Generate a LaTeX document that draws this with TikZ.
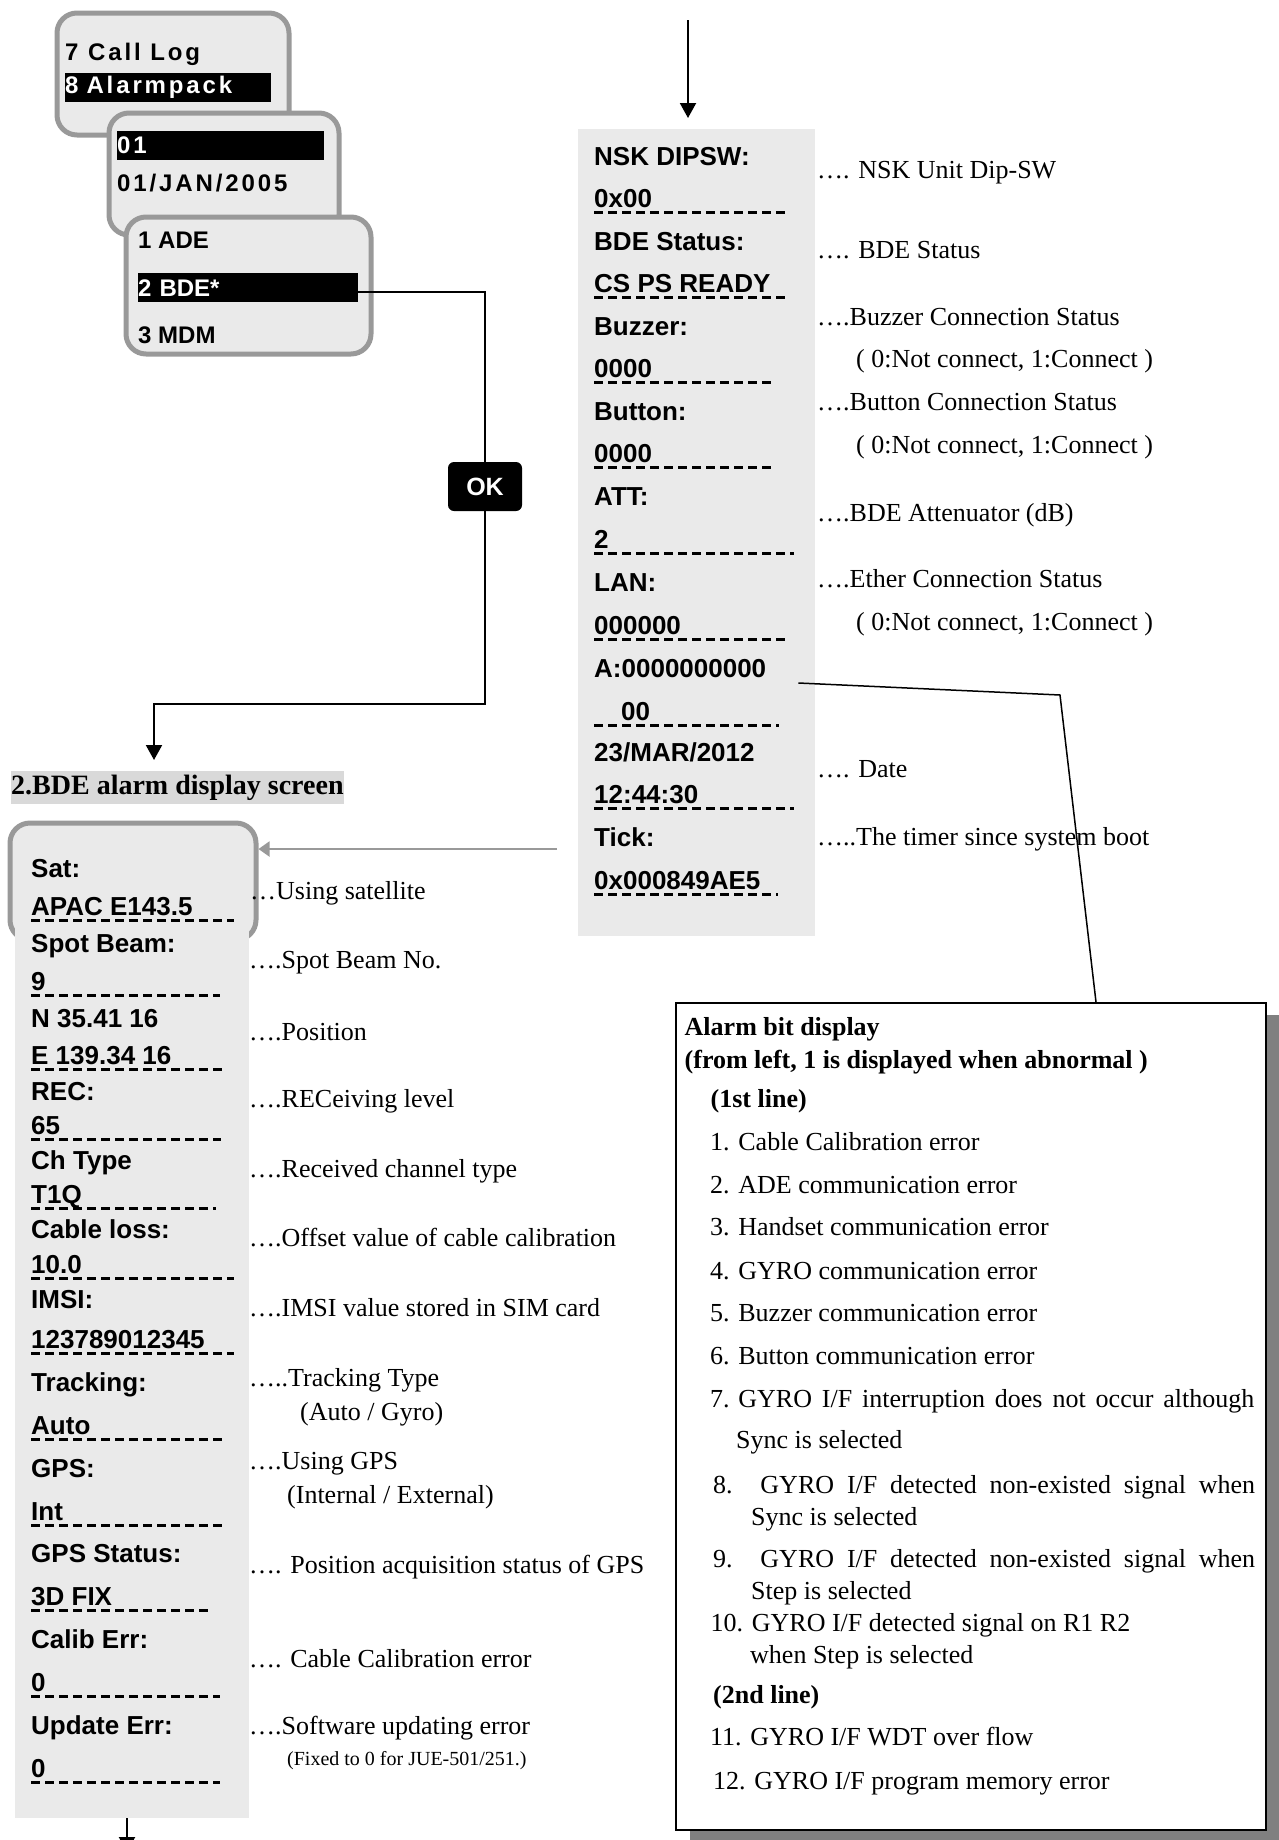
\documentclass[tikz,border=0pt]{standalone}
\usepackage{fontspec}
\setmainfont{Liberation Serif}
\setsansfont{Liberation Sans}
\newfontfamily\spacedsans[LetterSpace=12]{Liberation Sans}
\usepackage{tikz}
\usetikzlibrary{arrows.meta, shadows}
\definecolor{grayScreen}{RGB}{234,234,234}
\definecolor{grayFrame}{RGB}{153,153,153}
\definecolor{grayTitle}{RGB}{217,217,217}
\definecolor{grayShadow}{RGB}{128,128,128}

\begin{document}
\begin{tikzpicture}[x=1pt, y=-1pt,
    menuframe/.style={draw=grayFrame, line width=5pt, fill=grayScreen, rounded corners=20pt, anchor=north west, inner sep=0pt},
    menufont/.style={font=\sffamily\bfseries\fontsize{24}{28}\selectfont},
    spacedfont/.style={font=\spacedsans\bfseries\fontsize{24}{28}\selectfont},
    lcdfont/.style={font=\sffamily\bfseries\fontsize{26}{30}\selectfont},
    notefont/.style={font=\fontsize{26}{30}\selectfont},
    txt/.style={anchor=base west, inner sep=0pt},
    lcd/.style={txt, lcdfont},
    note/.style={txt, notefont},
    selbar/.style={fill=black, text=white, anchor=north west, inner sep=0pt, minimum height=29pt, align=left},
    panel/.style={fill=grayScreen, anchor=north west, inner sep=0pt},
    okkey/.style={fill=black, text=white, rounded corners=6pt, minimum width=74pt, minimum height=49pt, inner sep=0pt, font=\sffamily\bfseries\fontsize{25}{28}\selectfont},
    dashline/.style={line width=3pt, dash pattern=on 9pt off 5pt},
    link/.style={line width=2pt},
    arrow/.style={line width=2pt, -{Triangle[length=15pt, width=16pt]}},
    backarrow/.style={line width=2pt, draw=grayFrame, -{Triangle[length=11pt, width=15pt]}},
    alarmbox/.style={draw, line width=2pt, fill=white, anchor=north west, inner sep=0pt, drop shadow={shadow xshift=14pt, shadow yshift=-12pt, fill=grayShadow, opacity=1}}
]
    \useasboundingbox (0,0) rectangle (1279,1840);

    % menu screens
    \node[menuframe, minimum width=232pt, minimum height=122pt] (menu1) at (54.5,10.5) {};
    \node[txt, spacedfont] (calllog) at (65,60) {7 Call Log};
    \node[selbar, spacedfont, text width=206pt] (alarmpack) at (65,73) {8 Alarmpack};
    \node[menuframe, minimum width=230pt, minimum height=122pt] (menu2) at (106.5,110.5) {};
    \node[selbar, spacedfont, text width=207pt] (entry) at (117,131) {01};
    \node[txt, spacedfont] (entrydate) at (117,191) {01/JAN/2005};
    \node[menuframe, minimum width=245pt, minimum height=137pt] (menu3) at (123.5,214.5) {};
    \node[txt, menufont] (ade) at (138,248) {1 ADE};
    \node[selbar, menufont, text width=220pt] (bde) at (138,273) {2 BDE*};
    \node[txt, menufont] (mdm) at (138,343) {3 MDM};

    \node[okkey] (okbtn) at (485,486.5) {OK};
    \coordinate (bend) at (485,704);
    \coordinate (drop) at (154,760);
    \draw[link] ([yshift=-4pt]bde.east) -- ([yshift=-4pt]bde.east -| okbtn.north) -- (okbtn.north);
    \draw[arrow] (okbtn.south) -- (bend) -| (drop);

    % BDE status panel
    \coordinate (feed) at (688,20);
    \node[panel, minimum width=236.5pt, minimum height=807pt] (nskpanel) at (578,129) {};
    \draw[arrow, shorten >=11pt] (feed) -- (feed |- nskpanel.north);

    \node[lcd] (nsk) at (594,165) {NSK DIPSW:};
    \node[lcd] (nskval) at (594,207) {0x00};
    \node[lcd] (bdest) at (594,250) {BDE Status:};
    \node[lcd] (bdeval) at (594,292) {CS PS READY};
    \node[lcd] (buz) at (594,335) {Buzzer:};
    \node[lcd] (buzval) at (594,377) {0000};
    \node[lcd] (btn) at (594,420) {Button:};
    \node[lcd] (btnval) at (594,462.5) {0000};
    \node[lcd] (att) at (594,505) {ATT:};
    \node[lcd] (attval) at (594,548) {2};
    \node[lcd] (lan) at (594,591) {LAN:};
    \node[lcd] (lanval) at (594,634) {000000};
    \node[lcd] (abits) at (594,677) {A:0000000000};
    \node[lcd] (abits2) at (621,720) {00};
    \node[lcd] (date) at (594,761) {23/MAR/2012};
    \node[lcd] (timeval) at (594,803.5) {12:44:30};
    \node[lcd] (tick) at (594,846) {Tick:};
    \node[lcd] (tickval) at (594,889) {0x000849AE5};
    \draw[dashline] ([shift={(-27pt,-5pt)}]abits2.base west) -- ++(185,0);

    \node[note] (n1) at (817,178) {…. NSK Unit Dip-SW};
    \node[note] (n2) at (817,258) {…. BDE Status};
    \node[note] (n3) at (817,325) {….Buzzer Connection Status};
    \node[note] (n4) at (856,367) {( 0:Not connect, 1:Connect )};
    \node[note] (n5) at (817,410) {….Button Connection Status};
    \node[note] (n6) at (856,453.5) {( 0:Not connect, 1:Connect )};
    \node[note] (n7) at (817,521) {….BDE Attenuator (dB)};
    \node[note] (n8) at (817,587.5) {….Ether Connection Status};
    \node[note] (n9) at (856,630) {( 0:Not connect, 1:Connect )};
    \node[note] (n10) at (817,777) {…. Date};
    \node[note] (n11) at (817,845) {…..The timer since system boot};

    % alarm display screen
    \node[anchor=north west, fill=grayTitle, inner xsep=0pt, inner ysep=0pt, minimum height=33pt, font=\bfseries\fontsize{28}{32}\selectfont] (title) at (11,771) {2.BDE alarm display screen};
    \node[menuframe, minimum width=246pt, minimum height=117pt] (satbox) at (7.5,820.5) {};
    \node[panel, minimum width=234pt, minimum height=892pt] (bdepanel) at (15,926) {};
    \coordinate (fromtop) at (557,849);
    \draw[backarrow] (fromtop) -- (fromtop -| satbox.east);
    \coordinate (out) at (127,1852);
    \draw[arrow] (out |- bdepanel.south) -- (out);

    \node[lcd] (sat) at (31,877.5) {Sat:};
    \node[lcd] (satval) at (31,915) {APAC E143.5};
    \node[lcd] (beam) at (31,952.5) {Spot Beam:};
    \node[lcd] (beamval) at (31,990) {9};
    \node[lcd] (lat) at (31,1027) {N 35.41 16};
    \node[lcd] (lonval) at (31,1064) {E 139.34 16};
    \node[lcd] (rec) at (31,1100) {REC:};
    \node[lcd] (recval) at (31,1134) {65};
    \node[lcd] (ch) at (31,1169) {Ch Type};
    \node[lcd] (chval) at (31,1203.5) {T1Q};
    \node[lcd] (loss) at (31,1238) {Cable loss:};
    \node[lcd] (lossval) at (31,1273) {10.0};
    \node[lcd] (imsi) at (31,1308) {IMSI:};
    \node[lcd] (imsival) at (31,1348) {123789012345};
    \node[lcd] (track) at (31,1391) {Tracking:};
    \node[lcd] (trackval) at (31,1434) {Auto};
    \node[lcd] (gps) at (31,1477) {GPS:};
    \node[lcd] (gpsval) at (31,1520) {Int};
    \node[lcd] (fix) at (31,1562) {GPS Status:};
    \node[lcd] (fixval) at (31,1605) {3D FIX};
    \node[lcd] (cal) at (31,1648) {Calib Err:};
    \node[lcd] (calval) at (31,1691) {0};
    \node[lcd] (upd) at (31,1734) {Update Err:};
    \node[lcd] (updval) at (31,1777) {0};

    \foreach \val/\len in {nskval/193, bdeval/193, buzval/179, btnval/179, attval/200, lanval/195, timeval/200, tickval/184,
        satval/203, beamval/189, lonval/193, recval/190, chval/185, lossval/203, imsival/203, trackval/193, gpsval/193, fixval/177, calval/189, updval/189}
        \draw[dashline] ([yshift=-5pt]\val.base west) -- ++(\len,0);

    \node[note] (d1) at (250,899) {…Using satellite};
    \node[note] (d2) at (249,968.5) {….Spot Beam No.};
    \node[note] (d3) at (249,1040) {….Position};
    \node[note] (d4) at (249,1107) {….RECeiving level};
    \node[note] (d5) at (249,1177) {….Received channel type};
    \node[note] (d6) at (249,1246) {….Offset value of cable calibration};
    \node[note] (d7) at (249,1316) {….IMSI value stored in SIM card};
    \node[note] (d8) at (249,1386) {…..Tracking Type};
    \node[note] (d9) at (300,1420) {(Auto / Gyro)};
    \node[note] (d10) at (249,1469) {….Using GPS};
    \node[note] (d11) at (287,1503) {(Internal / External)};
    \node[note] (d12) at (249,1573) {…. Position acquisition status of GPS};
    \node[note] (d13) at (249,1667) {…. Cable Calibration error};
    \node[note] (d14) at (249,1734) {….Software updating error};
    \node[txt, font=\fontsize{20}{24}\selectfont] (d15) at (287,1765) {(Fixed to 0 for JUE-501/251.)};

    % alarm bit legend
    \node[alarmbox, minimum width=590pt, minimum height=827pt] (alarm) at (675,1002) {};
    \coordinate (kink) at (1060,695);
    \draw[line width=1.5pt] ([shift={(32pt,-6pt)}]abits.base east) -- (kink) -- ([xshift=421pt]alarm.north west);

    \node[note, font=\bfseries\fontsize{26}{30}\selectfont] (a0) at (684.5,1035) {Alarm bit display};
    \node[note, font=\bfseries\fontsize{26}{30}\selectfont] (a00) at (684.5,1068) {(from left, 1 is displayed when abnormal )};
    \node[note, font=\bfseries\fontsize{26}{30}\selectfont] (l1) at (710.5,1107) {(1st line)};
    \node[note] (a1) at (710,1150) {1. Cable Calibration error};
    \node[note] (a2) at (710,1193) {2. ADE communication error};
    \node[note] (a3) at (710,1235.6) {3. Handset communication error};
    \node[note] (a4) at (710,1279) {4. GYRO communication error};
    \node[note] (a5) at (710,1321) {5. Buzzer communication error};
    \node[note] (a6) at (710,1364) {6. Button communication error};
    \node[note] (a7) at (710,1407) {7. \makebox[516pt][s]{GYRO I/F interruption does not occur although}};
    \node[note] (a7b) at (736,1448) {Sync is selected};
    \node[note] (a8) at (713,1493) {\makebox[542pt][s]{8. GYRO I/F detected non-existed signal when}};
    \node[note] (a8b) at (751,1525) {Sync is selected};
    \node[note] (a9) at (713,1567) {\makebox[542pt][s]{9. GYRO I/F detected non-existed signal when}};
    \node[note] (a9b) at (751,1599) {Step is selected};
    \node[note] (a10) at (710.5,1631) {10. GYRO I/F detected signal on R1 R2};
    \node[note] (a10b) at (750,1663) {when Step is selected};
    \node[note, font=\bfseries\fontsize{26}{30}\selectfont] (l2) at (713,1703) {(2nd line)};
    \node[note] (a11) at (710,1745) {11. GYRO I/F WDT over flow};
    \node[note] (a12) at (713,1789) {12. GYRO I/F program memory error};
\end{tikzpicture}
\end{document}
